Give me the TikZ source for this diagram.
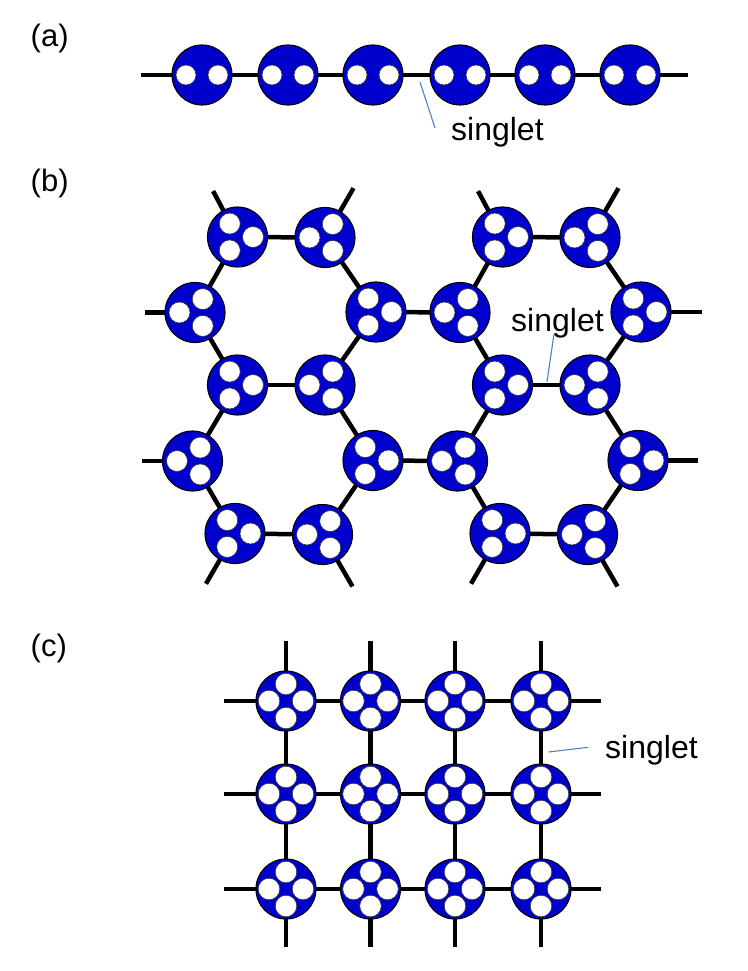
\documentclass[tikz,border=0pt]{standalone}
\usepackage{fontspec}
\setmainfont{Liberation Sans}
\usetikzlibrary{calc}
\definecolor{molblue}{RGB}{0,0,204}
\definecolor{leadcol}{RGB}{79,129,189}
\pgfdeclarelayer{bg}
\pgfsetlayers{bg,main}
\tikzset{
  mol/.style={circle, draw=black, line width=1.1pt, fill=molblue, minimum size=60pt, inner sep=0pt},
  bond/.style={line width=4.5pt, black},
  dotw/.style={fill=white, draw=black!80, line width=0.6pt},
  lbl/.style={font=\fontsize{31}{36}\selectfont, inner sep=0pt, anchor=base west},
  sing/.style={font=\fontsize{32}{38}\selectfont, inner sep=0pt, anchor=base west},
  leadline/.style={draw=leadcol, line width=1.1pt},
}
% name, x, y, angles, offset, radius
\newcommand\mkmol[6]{%
  \node[mol] (#1) at (#2,#3) {};
  \foreach \ang in {#4} {\filldraw[dotw] (#1.center) ++(\ang:#5) circle (#6);}
}
\newcommand\hexunit[2]{%
  \mkmol{#1A}{237.5+#2}{-237}{0,120,240}{15.5pt}{10.5pt}
  \mkmol{#1B}{325+#2}{-237.5}{180,60,300}{15.5pt}{10.5pt}
  \mkmol{#1C}{195+#2}{-312.5}{60,180,300}{15.5pt}{10.5pt}
  \mkmol{#1D}{376+#2}{-312}{120,0,240}{15.5pt}{10.5pt}
  \mkmol{#1E}{237.5+#2}{-385}{120,0,240}{15.5pt}{10.5pt}
  \mkmol{#1F}{325+#2}{-385}{60,180,300}{15.5pt}{10.5pt}
  \mkmol{#1G}{192.5+#2}{-461}{60,180,300}{15.5pt}{10.5pt}
  \mkmol{#1H}{373+#2}{-460.5}{120,0,240}{15.5pt}{10.5pt}
  \mkmol{#1I}{235+#2}{-533.5}{120,0,240}{15.5pt}{10.5pt}
  \mkmol{#1J}{322.5+#2}{-534.5}{60,180,300}{15.5pt}{10.5pt}
}
\newcommand\hexbonds[1]{%
  \draw[bond] (#1A.center) -- (#1B.center);
  \draw[bond] (#1A.center) -- (#1C.center);
  \draw[bond] (#1B.center) -- (#1D.center);
  \draw[bond] (#1C.center) -- (#1E.center);
  \draw[bond] (#1D.center) -- (#1F.center);
  \draw[bond] (#1E.center) -- (#1F.center);
  \draw[bond] (#1E.center) -- (#1G.center);
  \draw[bond] (#1F.center) -- (#1H.center);
  \draw[bond] (#1G.center) -- (#1I.center);
  \draw[bond] (#1H.center) -- (#1J.center);
  \draw[bond] (#1I.center) -- (#1J.center);
  \coordinate (#1As) at ($(#1A.center)+(118:52pt)$);
  \coordinate (#1Bs) at ($(#1B.center)+(60:57pt)$);
  \coordinate (#1Is) at ($(#1I.center)+(240:58pt)$);
  \coordinate (#1Js) at ($(#1J.center)+(300:60pt)$);
  \draw[bond] (#1A.center) -- (#1As);
  \draw[bond] (#1B.center) -- (#1Bs);
  \draw[bond] (#1I.center) -- (#1Is);
  \draw[bond] (#1J.center) -- (#1Js);
}
\begin{document}
\begin{tikzpicture}[x=1pt,y=1pt]
\useasboundingbox (0,0) rectangle (747,-971);

% ---------- labels ----------
\node[lbl] (la) at (30.5,-46.3) {(a)};
\node[lbl] (lb) at (30.5,-191) {(b)};
\node[lbl] (lc) at (30.5,-656.3) {(c)};

% ---------- (a) chain ----------
\foreach \i/\x in {1/202,2/288,3/373,4/460,5/545,6/630}{
  \mkmol{a\i}{\x}{-75}{0,180}{16pt}{10pt}
}
\coordinate (aL) at (141,-75);
\coordinate (aR) at (688,-75);

% ---------- (b) honeycomb ----------
\hexunit{L}{0}
\hexunit{R}{265}

% ---------- (c) square lattice ----------
\foreach \i/\x in {1/286,2/370.5,3/455,4/541}{
  \foreach \j/\y in {1/701,2/794,3/889}{
    \mkmol{c\i\j}{\x}{-\y}{0,90,180,270}{17pt}{10.8pt}
  }
}

% ---------- bonds (behind) ----------
\begin{pgfonlayer}{bg}
  \draw[bond] (aL) -- (a1.center) -- (a2.center) -- (a3.center) -- (a4.center) -- (a5.center) -- (a6.center) -- (aR);
  \hexbonds{L}
  \hexbonds{R}
  \draw[bond] (LD.center) -- (RC.center);
  \draw[bond] (LH.center) -- (RG.center);
  \coordinate (LCs) at (145,-312.5);
  \coordinate (LGs) at (142,-461);
  \coordinate (RDs) at (702,-312);
  \coordinate (RHs) at (698,-460.5);
  \draw[bond] (LC.center) -- (LCs);
  \draw[bond] (LG.center) -- (LGs);
  \draw[bond] (RD.center) -- (RDs);
  \draw[bond] (RH.center) -- (RHs);
  \foreach \j in {1,2,3}{
    \draw[bond] (c1\j.center) -- (c2\j.center) -- (c3\j.center) -- (c4\j.center);
    \draw[bond] (c1\j.center) -- ++(-62pt,0) coordinate (cl\j);
    \draw[bond] (c4\j.center) -- ++(60pt,0) coordinate (cr\j);
  }
  \foreach \i in {1,2,3,4}{
    \draw[bond] (c\i1.center) -- (c\i2.center) -- (c\i3.center);
    \draw[bond] (c\i1.center) -- ++(0,60pt) coordinate (ct\i);
    \draw[bond] (c\i3.center) -- ++(0,-58pt) coordinate (cb\i);
  }
\end{pgfonlayer}

% ---------- singlet labels ----------
\node[sing] (sa) at (451,-140) {singlet};
\node[sing] (sb) at (511,-331.5) {singlet};
\node[sing] (sc) at (605,-758) {singlet};
\coordinate (sa1) at (435,-128);
\coordinate (sa2) at (420,-82);
\coordinate (sb1) at (554,-334);
\coordinate (sb2) at (547,-382);
\coordinate (sc1) at (588,-747.3);
\coordinate (sc2) at (548.5,-752);
\draw[leadline] (sa1) -- (sa2);
\draw[leadline] (sb1) -- (sb2);
\draw[leadline] (sc1) -- (sc2);
\end{tikzpicture}
\end{document}
